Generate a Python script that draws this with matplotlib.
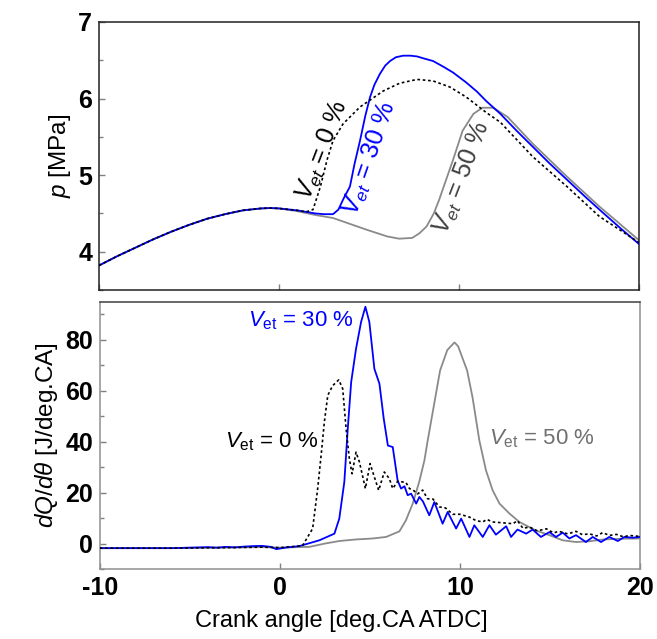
import matplotlib

matplotlib.use("Agg")
import matplotlib.pyplot as plt
from matplotlib.ticker import MultipleLocator

plt.rcParams["font.family"] = ["Liberation Sans", "DejaVu Sans"]
plt.rcParams["mathtext.fontset"] = "custom"
plt.rcParams["mathtext.rm"] = "Liberation Sans"
plt.rcParams["mathtext.it"] = "Liberation Sans:italic"
plt.rcParams["mathtext.bf"] = "Liberation Sans:bold"
plt.rcParams["axes.unicode_minus"] = False

# --- cylinder pressure [MPa] vs crank angle ---
p_x_0 = [-10, -9, -8, -7, -6, -5, -4, -3, -2, -1, -0.5, 0, 1, 1.5, 1.89, 2.3, 2.67,
         3.0, 3.56, 4.5, 5.8, 6.7, 7.67, 8.56, 9.5, 10.4, 11.5, 12.3, 14.1, 16.0,
         17.8, 20.0]
p_y_0 = [3.82, 3.94, 4.05, 4.16, 4.26, 4.35, 4.43, 4.49, 4.54, 4.565, 4.57, 4.565,
         4.54, 4.52, 4.55, 4.85, 5.2, 5.45, 5.67, 5.89, 6.1, 6.2, 6.25, 6.23, 6.15,
         6.02, 5.82, 5.69, 5.24, 4.85, 4.46, 4.12]

p_x_30 = [-10, -9, -8, -7, -6, -5, -4, -3, -2, -1, -0.5, 0, 1, 2, 2.5, 3.0, 3.3,
          3.6, 3.94, 4.2, 4.5, 4.8, 5.06, 5.3, 5.6, 5.9, 6.17, 6.5, 6.9, 7.3, 7.67,
          8.1, 8.56, 9.1, 9.67, 10.4, 11.0, 11.5, 12.3, 13.2, 14.1, 15.0, 16.0,
          17.0, 17.8, 19.0, 20.0]
p_y_30 = [3.82, 3.94, 4.05, 4.16, 4.26, 4.35, 4.43, 4.49, 4.54, 4.565, 4.57, 4.565,
          4.54, 4.50, 4.49, 4.49, 4.55, 4.7, 4.85, 5.15, 5.45, 5.78, 6.02, 6.18,
          6.32, 6.43, 6.49, 6.54, 6.56, 6.56, 6.55, 6.52, 6.49, 6.42, 6.34, 6.21,
          6.09, 5.97, 5.80, 5.58, 5.37, 5.16, 4.94, 4.72, 4.55, 4.30, 4.10]

p_x_50 = [-10, -9, -8, -7, -6, -5, -4, -3, -2, -1, -0.5, 0, 1, 2, 3.0, 4.83, 6.0,
          6.67, 7.4, 7.8, 8.2, 8.6, 8.9, 9.3, 9.67, 10.2, 10.8, 11.3, 11.9, 12.7,
          14.1, 16.0, 17.8, 20.0]
p_y_50 = [3.82, 3.94, 4.05, 4.16, 4.26, 4.35, 4.43, 4.49, 4.54, 4.565, 4.57, 4.565,
          4.53, 4.48, 4.44, 4.29, 4.2, 4.17, 4.18, 4.24, 4.33, 4.5, 4.68, 4.95, 5.2,
          5.58, 5.8, 5.88, 5.88, 5.76, 5.41, 4.98, 4.59, 4.15]

# --- heat release rate [J/deg.CA] vs crank angle ---
q_x_0 = [-10, -6, -3, -1, 0, 1.0, 1.27, 1.82, 2.1, 2.29, 2.47, 2.66, 2.93, 3.27,
         3.49, 3.68, 3.86, 4.01, 4.23, 4.42, 4.75, 5.01, 5.25, 5.49, 5.8, 6.08,
         6.27, 6.55, 6.82, 7.0, 7.2, 7.4, 7.65, 7.93, 8.2, 8.5, 8.86, 9.2, 9.6,
         10.0, 10.53, 10.9, 11.27, 11.5, 11.8, 12.3, 12.94, 13.2, 13.5, 13.86,
         14.3, 14.8, 15.2, 15.5, 16.0, 16.45, 16.8, 17.2, 17.6, 17.93, 18.3, 18.7,
         19.1, 19.4, 20.0]
q_y_0 = [-1.8, -1.8, -1.6, -1.4, -1.6, -1.0, -0.7, 5.9, 21.6, 34.6, 47.7, 58.2,
         62.0, 64.3, 60.8, 45.0, 33.3, 27.4, 35.9, 32.0, 21.6, 31.4, 26.1, 20.9,
         28.1, 25.5, 21.6, 24.5, 24.2, 24.0, 21.6, 21.0, 19.5, 21.0, 17.6, 17.5,
         14.4, 14.0, 11.5, 11.5, 10.4, 9.0, 8.5, 9.5, 8.5, 8.2, 7.8, 9.0, 6.0, 6.5,
         5.0, 5.8, 4.2, 4.8, 3.8, 4.8, 3.5, 3.8, 3.0, 4.3, 3.2, 3.6, 2.6, 3.2, 2.8]

q_x_30 = [-10, -6, -4, -3.5, -3, -2.5, -2, -1.5, -1, -0.5, -0.2, 0.3, 1.08, 2.2,
          3.03, 3.3, 3.58, 3.77, 3.96, 4.23, 4.51, 4.75, 4.97, 5.25, 5.53, 5.77,
          6.0, 6.27, 6.54, 6.73, 6.92, 7.1, 7.29, 7.57, 7.75, 7.95, 8.3, 8.58, 9.04,
          9.32, 9.79, 10.07, 10.53, 10.8, 11.27, 11.64, 12.0, 12.57, 12.84, 13.2,
          13.68, 14.04, 14.5, 14.97, 15.34, 15.71, 16.08, 16.45, 17.0, 17.38, 17.84,
          18.3, 18.77, 19.14, 19.6, 20.0]
q_y_30 = [-1.8, -1.8, -1.4, -1.6, -1.3, -1.5, -1.2, -1.0, -0.9, -1.3, -2.2, -1.6,
          -1.0, 1.3, 3.9, 9.8, 24.2, 45.0, 63.4, 76.5, 87.0, 93.0, 87.0, 68.6, 62.8,
          49.0, 38.5, 37.9, 24.8, 21.6, 22.5, 19.0, 19.6, 15.7, 18.3, 16.5, 11.1,
          16.3, 7.8, 12.4, 5.9, 9.8, 2.6, 7.2, 2.6, 7.2, 3.5, 6.8, 2.6, 5.5, 3.9,
          5.5, 2.6, 4.5, 2.6, 4.3, 2.0, 3.3, 0.6, 2.6, 0.6, 2.6, 1.0, 2.6, 2.3, 2.6]

q_x_50 = [-10, -6, -3, -1, 0, 1, 1.64, 2.5, 3.3, 4.2, 5.16, 5.9, 6.64, 7.0, 7.38,
          7.75, 8.03, 8.2, 8.5, 8.9, 9.3, 9.7, 9.9, 10.4, 10.7, 11.08, 11.45, 11.82,
          12.2, 12.75, 13.3, 14.2, 14.97, 15.7, 16.45, 17.2, 17.93, 19.0, 20.0]
q_y_50 = [-1.8, -1.8, -1.6, -1.4, -1.6, -1.4, -1.3, 0.0, 1.0, 1.6, 2.0, 2.6, 4.8,
          9.1, 15.7, 24.5, 32.7, 40.0, 52.0, 68.0, 76.0, 79.0, 77.5, 68.0, 57.5,
          40.5, 28.7, 20.9, 15.7, 11.8, 8.5, 5.2, 3.3, 1.3, 0.6, 0.9, 1.6, 1.9, 2.0]

BLUE = "#0000ff"
GRAY = "#8a8a8a"
DOTS = (0, (1.6, 1.6))

fig = plt.figure(figsize=(6.57, 6.39), dpi=100)
ax_p = fig.add_axes([0.1507, 0.5462, 0.8219, 0.4194])
ax_q = fig.add_axes([0.1520, 0.1095, 0.8220, 0.4184])

# pressure traces
ax_p.plot(p_x_50, p_y_50, color=GRAY, lw=1.3, zorder=2)
ax_p.plot(p_x_30, p_y_30, color=BLUE, lw=1.3, zorder=3)
ax_p.plot(p_x_0, p_y_0, color="black", lw=1.2, ls=DOTS, zorder=4)

ax_p.text(2.39, 5.32, r"$V_{et}$ = 0 %", color="black", fontsize=18,
          rotation=69, ha="center", va="center", rotation_mode="anchor")
ax_p.text(5.06, 5.22, r"$V_{et}$ = 30 %", color=BLUE, fontsize=18,
          rotation=71, ha="center", va="center", rotation_mode="anchor")
ax_p.text(10.17, 4.96, r"$V_{et}$ = 50 %", color="#404040", fontsize=18,
          rotation=69, ha="center", va="center", rotation_mode="anchor")

ax_p.set_xlim(-10, 20)
ax_p.set_ylim(3.5, 7)
ax_p.yaxis.set_major_locator(MultipleLocator(1))
ax_p.yaxis.set_minor_locator(MultipleLocator(0.5))
ax_p.xaxis.set_major_locator(MultipleLocator(10))
ax_p.tick_params(axis="x", labelbottom=False)
ax_p.set_ylabel(r"$p$ [MPa]", fontsize=17.5, labelpad=4)
for s in ax_p.spines.values():
    s.set_color("#202020")
    s.set_linewidth(1.1)

# heat release rate traces
ax_q.plot(q_x_50, q_y_50, color=GRAY, lw=1.3, zorder=2)
ax_q.plot(q_x_30, q_y_30, color=BLUE, lw=1.3, zorder=3)
ax_q.plot(q_x_0, q_y_0, color="black", lw=1.2, ls=DOTS, zorder=4)

ax_q.text(1.19, 87.6, r"$V_{\mathrm{et}}$ = 30 %", color=BLUE, fontsize=16,
          ha="center", va="center")
ax_q.text(-0.47, 40.0, r"$V_{\mathrm{et}}$ = 0 %", color="black", fontsize=16,
          ha="center", va="center")
ax_q.text(14.58, 41.3, r"$V_{\mathrm{et}}$ = 50 %", color="#707070", fontsize=16,
          ha="center", va="center")

ax_q.set_xlim(-10, 20)
ax_q.set_ylim(-10, 95)
ax_q.yaxis.set_major_locator(MultipleLocator(20))
ax_q.yaxis.set_minor_locator(MultipleLocator(10))
ax_q.xaxis.set_major_locator(MultipleLocator(10))
ax_q.set_xlabel("Crank angle [deg.CA ATDC]", fontsize=17)
ax_q.xaxis.set_label_coords(0.447, -0.152)
ax_q.set_ylabel(r"$dQ/d\theta$ [J/deg.CA]", fontsize=17.5, labelpad=4)
for name, s in ax_q.spines.items():
    s.set_color("#404040" if name == "top" else "#909090")
    s.set_linewidth(1.1)

for ax in (ax_p, ax_q):
    ax.tick_params(which="both", direction="in", color="#808080", width=1,
                   top=False, right=False)
    ax.tick_params(which="major", length=4, pad=5, labelsize=18)
    ax.tick_params(which="minor", length=3)
    for lbl in ax.get_xticklabels() + ax.get_yticklabels():
        lbl.set_fontweight("bold")

fig.savefig("out.png", dpi=100)
